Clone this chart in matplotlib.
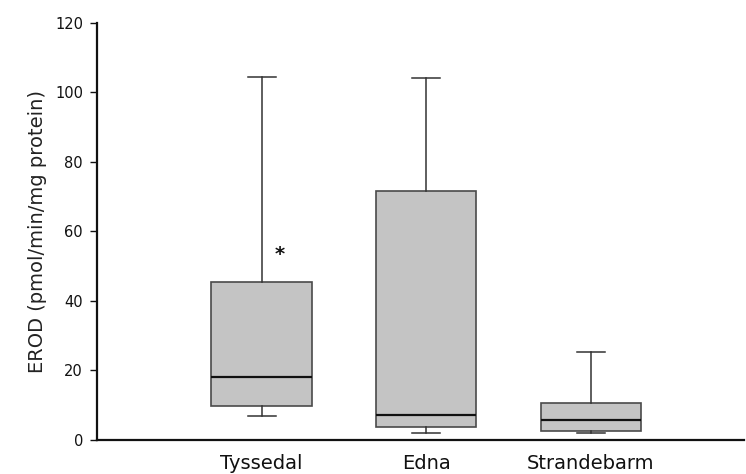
import matplotlib
matplotlib.use("Agg")
import matplotlib.pyplot as plt

categories = ["Tyssedal", "Edna", "Strandebarm"]
whisker_low = [6.9, 2.0, 1.9]
q1 = [9.9, 3.8, 2.7]
median = [18.1, 7.2, 5.8]
q3 = [45.5, 71.7, 10.6]
whisker_high = [104.5, 104.2, 25.3]
y_ticks = [0, 20, 40, 60, 80, 100, 120]
star_value = 53.5

plt.rcParams['font.family'] = ['DejaVu Sans']

fig = plt.figure(figsize=(7.46, 4.74), dpi=100)
ax = fig.add_axes([0.130, 0.0717, 0.867, 0.880])

stats = []
for i, name in enumerate(categories):
    stats.append(dict(label=name, whislo=whisker_low[i], q1=q1[i], med=median[i],
                      q3=q3[i], whishi=whisker_high[i], fliers=[]))

positions = list(range(1, len(categories) + 1))
bp = ax.bxp(stats, positions=positions, widths=0.61, capwidths=0.17,
            patch_artist=True, showfliers=False,
            boxprops=dict(facecolor="#c4c4c4", edgecolor="#4a4a4a", linewidth=1.2),
            medianprops=dict(color="#111111", linewidth=1.6),
            whiskerprops=dict(color="#333333", linewidth=1.1),
            capprops=dict(color="#333333", linewidth=1.1))

ax.text(1.11, star_value, "*", ha="center", va="center", fontsize=14,
        fontweight="bold", color="#111111")

ax.set_xlim(0, 3.93)
ax.set_ylim(0, 120)
ax.set_yticks(y_ticks)
ax.set_yticklabels([str(v) for v in y_ticks])
ax.set_xticks(positions)
ax.set_xticklabels(categories, fontsize=14)
ax.tick_params(axis="x", length=0, pad=10, colors="#111111")
ax.tick_params(axis="y", length=5, width=1, direction="out", labelsize=10.5, pad=5, colors="#111111")
ax.set_ylabel("EROD (pmol/min/mg protein)", fontsize=14, color="#222222", labelpad=6)

for side in ["top", "right"]:
    ax.spines[side].set_visible(False)
for side in ["left", "bottom"]:
    ax.spines[side].set_linewidth(1.6)
    ax.spines[side].set_color("#111111")

fig.savefig("out.png", dpi=100)
